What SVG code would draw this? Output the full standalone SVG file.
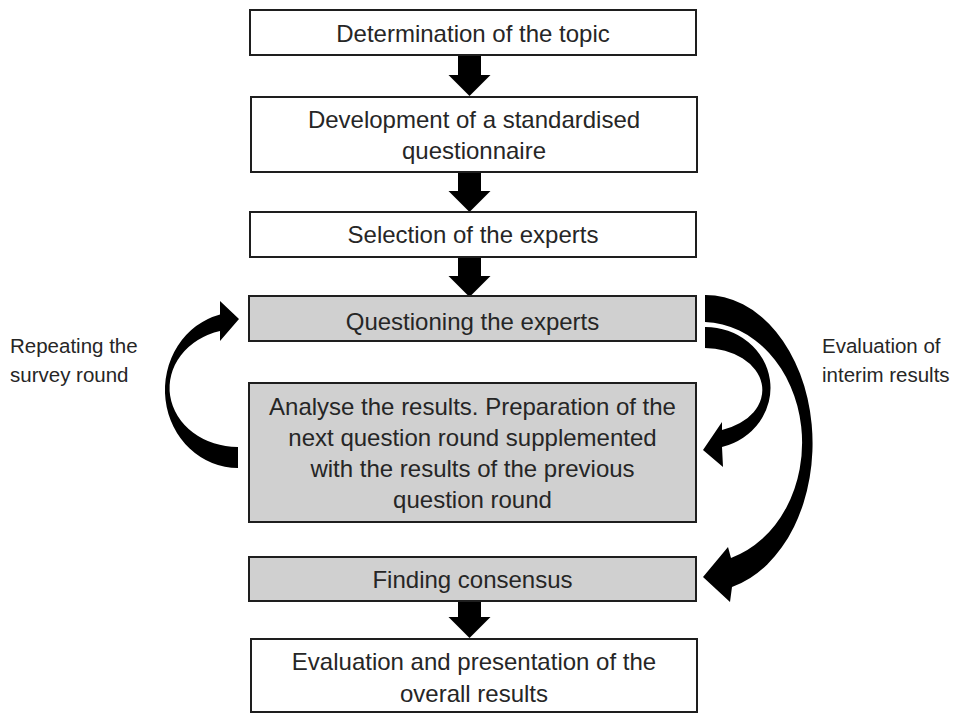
<svg xmlns="http://www.w3.org/2000/svg" width="956" height="713" viewBox="0 0 956 713">
<defs>
<style>
.box{fill:#ffffff;stroke:#1e1e1e;stroke-width:2}
.gray{fill:#d0d0d0}
.t{font-family:"Liberation Sans",Arial,sans-serif;font-size:24px;fill:#262626;text-anchor:middle}
.lbl{font-family:"Liberation Sans",Arial,sans-serif;font-size:20.5px;fill:#262626}
.arr{fill:#000000}
</style>
<polygon id="down" points="-11.5,0 11.5,0 11.5,20 21,20 0,41 -21,20 -11.5,20"/>
</defs>
<rect width="956" height="713" fill="#ffffff"/>
<g id="connectors" class="arr">
<use href="#down" x="469.5" y="55"/>
<use href="#down" x="469.5" y="171" transform="translate(0,0)"/>
<use href="#down" x="469.5" y="256"/>
<path d="M458,601 H481 V617 H490.5 L469.5,638 L448.5,617 H458 Z"/>
<!-- Repeating the survey round -->
<path d="M238,468 A73 78 0 0 1 220,314.4 L220,301 L239,319 L220,341 L220,331 A68 59 0 0 0 238,447 Z"/>
<!-- Evaluation of interim results: big arrow to Finding consensus -->
<path d="M705,295 A107 148.3 0 0 1 732,587 L730,602 L703,577 L728,547 L731,558 A100 120.6 0 0 0 705,322 Z"/>
<!-- small arrow to Analyse box -->
<path d="M705,327 A65 61 0 0 1 722,447 L723,467 L703,450 L722,422 L722,430 A58 42 0 0 0 705,348 Z"/>
</g>
<g id="n1"><rect class="box" x="250" y="10" width="446" height="45"/><text class="t" x="473" y="42">Determination of the topic</text></g>
<g id="n2"><rect class="box" x="251" y="97" width="446" height="75"/><text class="t" x="474" y="128">Development of a standardised</text><text class="t" x="474" y="159">questionnaire</text></g>
<g id="n3"><rect class="box" x="250" y="212" width="446" height="45"/><text class="t" x="473" y="243">Selection of the experts</text></g>
<g id="n4"><rect class="box gray" x="249" y="296" width="447" height="45"/><text class="t" x="472.5" y="330">Questioning the experts</text></g>
<g id="n5"><rect class="box gray" x="249" y="383" width="447" height="139"/><text class="t" x="472.5" y="415">Analyse the results. Preparation of the</text><text class="t" x="472.5" y="446">next question round supplemented</text><text class="t" x="472.5" y="477">with the results of the previous</text><text class="t" x="472.5" y="508">question round</text></g>
<g id="n6"><rect class="box gray" x="249" y="557" width="447" height="44"/><text class="t" x="472.5" y="588">Finding consensus</text></g>
<g id="n7"><rect class="box" x="251" y="639" width="446" height="73"/><text class="t" x="474" y="670">Evaluation and presentation of the</text><text class="t" x="474" y="702">overall results</text></g>
<g id="lbl-left"><text class="lbl" x="10" y="353">Repeating the</text><text class="lbl" x="10" y="382">survey round</text></g>
<g id="lbl-right"><text class="lbl" x="822" y="353">Evaluation of</text><text class="lbl" x="822" y="382">interim results</text></g>
</svg>
